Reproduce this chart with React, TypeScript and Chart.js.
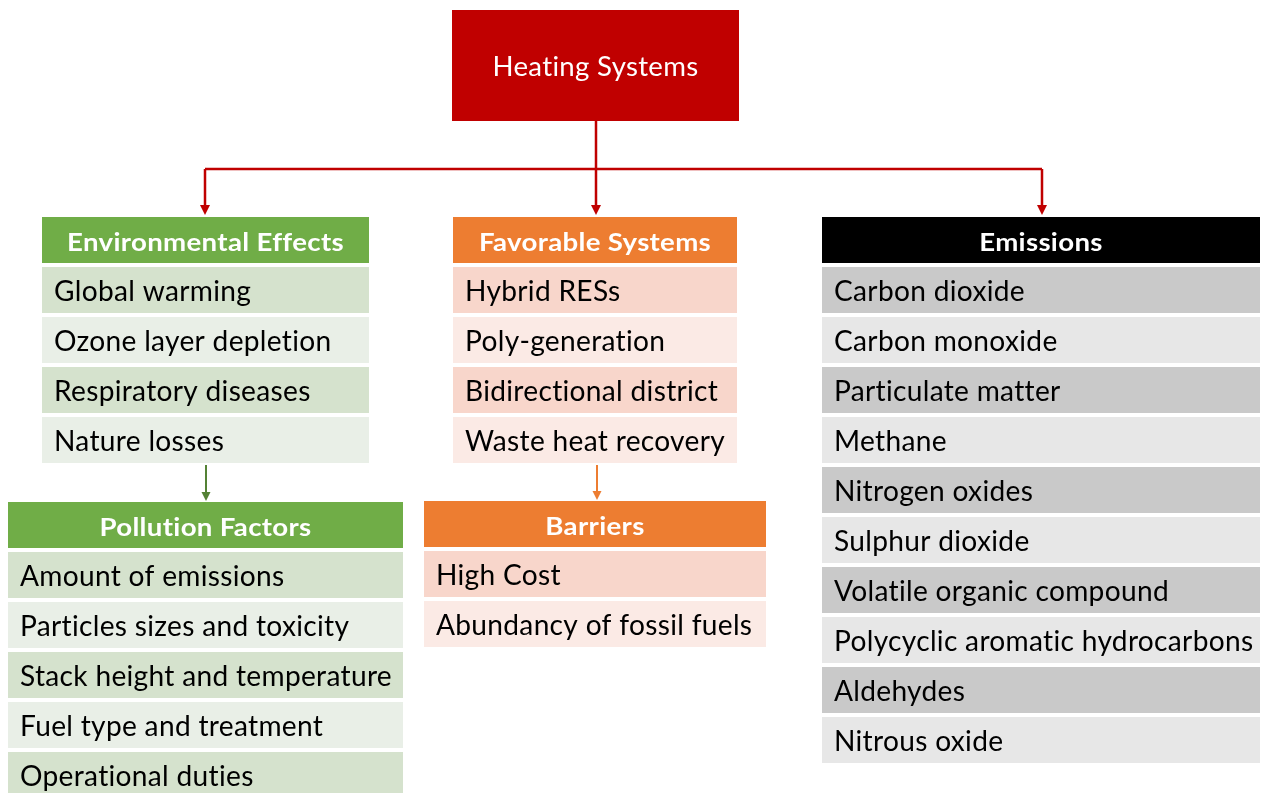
import React, { useEffect, useRef } from "react";
import { Chart, registerables } from "chart.js";

Chart.register(...registerables);

// ---------- content ----------
const rootTitle = "Heating Systems";

const environmentalHeader = "Environmental Effects";
const environmentalItems = [
  "Global warming",
  "Ozone layer depletion",
  "Respiratory diseases",
  "Nature losses",
];

const pollutionHeader = "Pollution Factors";
const pollutionItems = [
  "Amount of emissions",
  "Particles sizes and toxicity",
  "Stack height and temperature",
  "Fuel type and treatment",
  "Operational duties",
];

const favorableHeader = "Favorable Systems";
const favorableItems = [
  "Hybrid RESs",
  "Poly-generation",
  "Bidirectional district",
  "Waste heat recovery",
];

const barrierHeader = "Barriers";
const barrierItems = ["High Cost", "Abundancy of fossil fuels"];

const emissionsHeader = "Emissions";
const emissionItems = [
  "Carbon dioxide",
  "Carbon monoxide",
  "Particulate matter",
  "Methane",
  "Nitrogen oxides",
  "Sulphur dioxide",
  "Volatile organic compound",
  "Polycyclic aromatic hydrocarbons",
  "Aldehydes",
  "Nitrous oxide",
];

// ---------- layout / style ----------
const W = 1261;
const H = 793;
const FONT = "Lato, 'Open Sans', 'DejaVu Sans', sans-serif";

const HEADER_H = 46;
const ROW_OFFSET = 50;
const ROW_PITCH = 50;
const ROW_H = 46;
const TEXT_PAD = 12;
const SPACING = "0.3px";

const GREEN = { head: "#70AD47", a: "#D5E2CD", b: "#E9EFE7", arrow: "#548235" };
const ORANGE = { head: "#ED7D31", a: "#F8D6CB", b: "#FBEAE5", arrow: "#ED7D31" };
const GREY = { head: "#000000", a: "#C9C9C9", b: "#E7E7E7" };
const RED = "#C00000";

const groups = [
  { header: environmentalHeader, items: environmentalItems, x0: 42, x1: 369, y0: 217, style: GREEN },
  { header: pollutionHeader, items: pollutionItems, x0: 8, x1: 403, y0: 502, style: GREEN },
  { header: favorableHeader, items: favorableItems, x0: 453, x1: 737, y0: 217, style: ORANGE },
  { header: barrierHeader, items: barrierItems, x0: 424, x1: 766, y0: 501, style: ORANGE },
  { header: emissionsHeader, items: emissionItems, x0: 822, x1: 1260, y0: 217, style: GREY },
];

const rootBox = { x0: 452, x1: 739, y0: 10, y1: 121 };
const trunkX = 596;
const busY = 169;
const branchXs = [205, 596, 1042];
const branchTipY = 216;

const subArrows = [
  { x: 206, y0: 465, y1: 501, color: GREEN.arrow },
  { x: 597, y0: 465, y1: 500, color: ORANGE.arrow },
];

const diagramPlugin = {
  id: "diagram",
  afterDraw(chart: any) {
    const ctx: any = chart.ctx;
    const xs = chart.scales.x;
    const ys = chart.scales.y;
    const px = (v: number) => xs.getPixelForValue(v);
    const py = (v: number) => ys.getPixelForValue(v);

    const rect = (x0: number, y0: number, x1: number, y1: number, fill: string) => {
      const a = px(x0), b = py(y0), c = px(x1), d = py(y1);
      ctx.fillStyle = fill;
      ctx.fillRect(a, b, c - a, d - b);
    };

    const regSize = 28;
    const boldSize = 25;
    const titleSize = 27;
    const measure = (t: string, font: string) => {
      ctx.save();
      ctx.font = font;
      if ("letterSpacing" in ctx) ctx.letterSpacing = SPACING;
      const w = ctx.measureText(t).width;
      ctx.restore();
      return w;
    };
    const regF = 372 / measure("Stack height and temperature", `400 ${regSize}px ${FONT}`);
    const boldF = 277 / measure("Environmental Effects", `700 ${boldSize}px ${FONT}`);
    const titleF = 206 / measure(rootTitle, `400 ${titleSize}px ${FONT}`);

    const text = (
      t: string,
      x: number,
      y: number,
      font: string,
      f: number,
      align: CanvasTextAlign,
      color: string
    ) => {
      ctx.save();
      ctx.font = font;
      if ("letterSpacing" in ctx) ctx.letterSpacing = SPACING;
      ctx.fillStyle = color;
      ctx.textAlign = align;
      ctx.textBaseline = "alphabetic";
      ctx.translate(px(x), py(y));
      ctx.scale(f, 1);
      ctx.fillText(t, 0, 0);
      ctx.restore();
    };

    ctx.save();
    rect(rootBox.x0, rootBox.y0, rootBox.x1, rootBox.y1, RED);
    text(
      rootTitle,
      (rootBox.x0 + rootBox.x1) / 2,
      76,
      `400 ${titleSize}px ${FONT}`,
      titleF,
      "center",
      "#FFFFFF"
    );

    ctx.strokeStyle = RED;
    ctx.lineWidth = 2.5;
    ctx.beginPath();
    ctx.moveTo(px(trunkX), py(rootBox.y1));
    ctx.lineTo(px(trunkX), py(branchTipY - 8));
    ctx.moveTo(px(branchXs[0]), py(busY));
    ctx.lineTo(px(branchXs[2]), py(busY));
    ctx.moveTo(px(branchXs[0]), py(busY));
    ctx.lineTo(px(branchXs[0]), py(branchTipY - 8));
    ctx.moveTo(px(branchXs[2]), py(busY));
    ctx.lineTo(px(branchXs[2]), py(branchTipY - 8));
    ctx.stroke();

    const arrowHead = (x: number, tip: number, w: number, h: number, color: string) => {
      ctx.fillStyle = color;
      ctx.beginPath();
      ctx.moveTo(px(x - w / 2), py(tip - h));
      ctx.lineTo(px(x + w / 2), py(tip - h));
      ctx.lineTo(px(x), py(tip));
      ctx.closePath();
      ctx.fill();
    };
    branchXs.forEach((x) => arrowHead(x, branchTipY - 1, 10, 10, RED));

    subArrows.forEach((a) => {
      ctx.strokeStyle = a.color;
      ctx.lineWidth = 2;
      ctx.beginPath();
      ctx.moveTo(px(a.x), py(a.y0));
      ctx.lineTo(px(a.x), py(a.y1 - 7));
      ctx.stroke();
      arrowHead(a.x, a.y1, 9, 9, a.color);
    });

    groups.forEach((g) => {
      rect(g.x0, g.y0, g.x1, g.y0 + HEADER_H, g.style.head);
      text(
        g.header,
        (g.x0 + g.x1) / 2,
        g.y0 + HEADER_H / 2 + 11,
        `700 ${boldSize}px ${FONT}`,
        boldF,
        "center",
        "#FFFFFF"
      );
      g.items.forEach((item, i) => {
        const top = g.y0 + ROW_OFFSET + i * ROW_PITCH;
        rect(g.x0, top, g.x1, top + ROW_H, i % 2 === 0 ? g.style.a : g.style.b);
        text(
          item,
          g.x0 + TEXT_PAD,
          top + ROW_H / 2 + 11,
          `400 ${regSize}px ${FONT}`,
          regF,
          "left",
          "#000000"
        );
      });
    });
    ctx.restore();
  },
};

export default function App() {
  const canvasRef = useRef<HTMLCanvasElement | null>(null);

  useEffect(() => {
    document.body.style.margin = "0";
    const canvas = canvasRef.current;
    if (!canvas) return;
    const chart = new Chart(canvas, {
      type: "scatter",
      data: { datasets: [] },
      options: {
        animation: false,
        responsive: false,
        maintainAspectRatio: false,
        devicePixelRatio: 1,
        layout: { padding: 0 },
        plugins: { legend: { display: false }, tooltip: { enabled: false } },
        scales: {
          x: { type: "linear", min: 0, max: W, display: false },
          y: { type: "linear", min: 0, max: H, reverse: true, display: false },
        },
      },
      plugins: [diagramPlugin],
    });
    return () => chart.destroy();
  }, []);

  return (
    <div
      style={{
        position: "absolute",
        left: 0,
        top: 0,
        width: W,
        height: H,
        background: "#FFFFFF",
        overflow: "hidden",
      }}
    >
      <canvas ref={canvasRef} width={W} height={H} style={{ display: "block" }} />
    </div>
  );
}
